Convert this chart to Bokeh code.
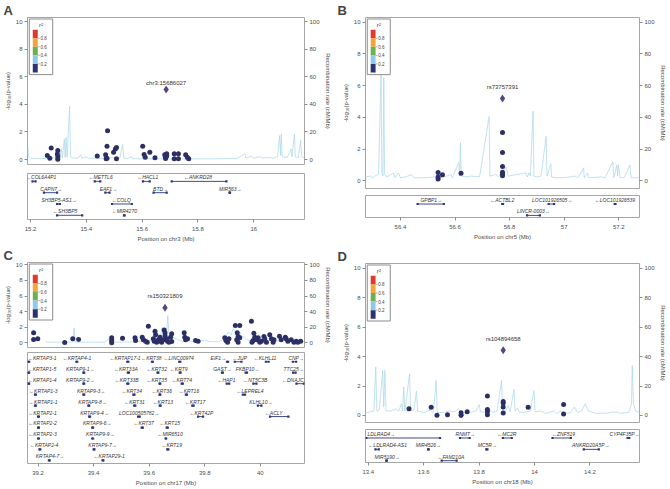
from bokeh.plotting import figure
from bokeh.models import Range1d, LinearAxis, FixedTicker
from bokeh.layouts import row, column
from bokeh.core.properties import value
from bokeh.embed import file_html
from bokeh.resources import INLINE

FONT = "Liberation Sans"
NAVY = "#2C2F66"
LEAD = "#55477F"
REC = "#A8D5E8"
GENE = "#2B357A"
TXT = "#4D4D4D"
FRAME = "#A6A6A6"
R2_PALETTE = ["#2B3472", "#8FC9EA", "#6DB04F", "#F3A43B", "#E1392E"]

LOGP_TICKS = [0, 2, 4, 6, 8, 10]
REC_TICKS = [0, 20, 40, 60, 80, 100]
R2_TICKS = [0.2, 0.4, 0.6, 0.8]
R2_TICK_LABELS = ["0.2", "0.4", "0.6", "0.8"]

# ---------------- Panel A (chr3) ----------------
A_chrom = "chr3"
A_xticks = [15.2, 15.4, 15.6, 15.8, 16]
A_xtick_labels = ["15.2", "15.4", "15.6", "15.8", "16"]
A_snp_pos = [15.260, 15.274, 15.269, 15.2975, 15.2975, 15.2975, 15.296, 15.439,
             15.476, 15.474, 15.469, 15.471, 15.474, 15.4975, 15.504, 15.508,
             15.508, 15.602, 15.607, 15.611, 15.6275, 15.646, 15.681, 15.683,
             15.684, 15.688, 15.688, 15.715, 15.715, 15.730, 15.730, 15.756,
             15.762, 15.767]
A_snp_logp = [0.29, 0.84, 0.10, 0.65, 0.22, 0.02, 0.40, 0.26, 2.09, 0.96, 0.34,
              0.05, 0.10, 0.53, 0.77, 0.88, 0.05, 0.96, 0.36, 0.17, 0.53, 0.12,
              0.35, 0.20, 0.08, 0.42, 0.25, 0.41, 0.05, 0.41, 0.05, 0.34, 0.17,
              0.05]
A_lead_pos = 15.686
A_lead_logp = 5.08
A_lead_name = "chr3:15686027"
A_rec_pos = [15.190, 15.193, 15.20, 15.23, 15.26, 15.28, 15.29, 15.305, 15.311,
             15.314, 15.321, 15.324, 15.3275, 15.331, 15.340, 15.343, 15.35,
             15.37, 15.380, 15.384, 15.40, 15.405, 15.42, 15.44, 15.47, 15.50,
             15.52, 15.530, 15.534, 15.55, 15.563, 15.566, 15.60, 15.65, 15.70,
             15.75, 15.80, 15.85, 15.90, 15.94, 15.968, 15.972, 15.99, 16.00,
             16.02, 16.03, 16.05, 16.07, 16.085, 16.093, 16.096, 16.099, 16.102,
             16.12, 16.134, 16.137, 16.146, 16.149, 16.16, 16.168, 16.172, 16.182]
A_rec_rate = [9, 2, 1, 0.8, 0.7, 1.5, 0.8, 1, 7.7, 1, 14.9, 1.5, 16, 2, 38.8, 2,
              1.2, 1, 3.6, 1, 2, 0.8, 1, 0.8, 1, 1.2, 1, 11, 1, 0.8, 2, 0.6, 0.5,
              0.5, 0.4, 0.4, 0.5, 0.5, 0.6, 0.8, 4.1, 1, 2.5, 1, 2, 1, 1.5, 1, 2,
              17.3, 3, 18.5, 2, 1.5, 7.7, 2, 18.5, 2, 1.5, 14, 2, 1]
A_gene_name = ["COL6A4P1", "METTL6", "HACL1", "ANKRD28", "CAPN7", "EAF1", "BTD",
               "MIR563", "SH3BP5-AS1", "COLQ", "SH3BP5", "MIR4270"]
A_gene_strand = ["-", "-", "-", "-", "+", "+", "+", "+", "+", "-", "-", "-"]
A_gene_start = [15.207, 15.430, 15.603, 15.706, 15.248, 15.468, 15.641, 15.913,
                15.295, 15.492, 15.295, 15.535]
A_gene_end = [15.218, 15.450, 15.627, 15.902, 15.295, 15.483, 15.688, 15.915,
              15.305, 15.563, 15.385, 15.537]
A_gene_row = [0, 0, 0, 0, 1, 1, 1, 1, 2, 2, 3, 3]
A_gene_label = [15.238, 15.451, 15.620, 15.800, 15.274, 15.479, 15.666, 15.916,
                15.302, 15.525, 15.324, 15.536]

# ---------------- Panel B (chr5) ----------------
B_chrom = "chr5"
B_xticks = [56.4, 56.6, 56.8, 57, 57.2]
B_xtick_labels = ["56.4", "56.6", "56.8", "57", "57.2"]
B_snp_pos = [56.538, 56.538, 56.538, 56.554, 56.622, 56.774, 56.774, 56.774,
             56.774, 56.774, 56.774]
B_snp_logp = [0.52, 0.25, 0.12, 0.39, 0.48, 3.04, 1.79, 0.91, 0.54, 0.41, 0.33]
B_lead_pos = 56.774
B_lead_logp = 5.19
B_lead_name = "rs73757391"
B_rec_pos = [56.272, 56.29, 56.30, 56.31, 56.32, 56.329, 56.332, 56.336, 56.339,
             56.342, 56.35, 56.375, 56.38, 56.393, 56.40, 56.42, 56.44, 56.45,
             56.48, 56.50, 56.52, 56.54, 56.56, 56.586, 56.59, 56.614, 56.617,
             56.620, 56.623, 56.64, 56.66, 56.69, 56.725, 56.728, 56.749, 56.76,
             56.787, 56.795, 56.81, 56.859, 56.865, 56.871, 56.876, 56.886,
             56.889, 56.90, 56.915, 56.934, 56.937, 56.951, 56.954, 56.97, 57.00,
             57.038, 57.05, 57.071, 57.074, 57.086, 57.09, 57.137, 57.15, 57.178,
             57.182, 57.193, 57.196, 57.199, 57.205, 57.22, 57.241, 57.245,
             57.276]
B_rec_rate = [2.5, 3, 2, 3.5, 4, 70, 5, 3, 65, 4, 2.5, 5, 2, 5, 2, 2.5, 4, 2, 2,
              2, 2.5, 2, 2.5, 4, 2, 11.7, 3, 24, 3, 2.5, 3, 2.5, 40.6, 3, 4, 2.5,
              8.7, 3, 3.5, 5, 2.5, 5, 3, 44, 3, 2.5, 3, 28, 3, 10.7, 2.5, 2, 2, 3,
              2, 8, 2, 5, 2, 2.5, 2, 12, 2, 10, 3, 10, 2, 2, 10, 2, 2]
B_gene_name = ["GPBP1", "ACTBL2", "LOC101926505", "LOC101926539", "LINCR-0003"]
B_gene_strand = ["+", "-", "+", "-", "+"]
B_gene_start = [56.463, 56.773, 56.943, 57.185, 56.864]
B_gene_end = [56.559, 56.776, 56.963, 57.188, 56.911]
B_gene_row = [0, 0, 0, 0, 1]
B_gene_label = [56.513, 56.773, 56.956, 57.186, 56.887]

# ---------------- Panel C (chr17) ----------------
C_chrom = "chr17"
C_xticks = [39.2, 39.4, 39.6, 39.8, 40]
C_xtick_labels = ["39.2", "39.4", "39.6", "39.8", "40"]
C_snp_pos = [39.184, 39.184, 39.199, 39.296, 39.325, 39.346, 39.465, 39.465,
             39.465, 39.504, 39.549, 39.551, 39.575, 39.579, 39.587, 39.593,
             39.597, 39.615, 39.618, 39.621, 39.623, 39.627, 39.633, 39.639,
             39.642, 39.645, 39.651, 39.654, 39.657, 39.657, 39.663, 39.666,
             39.671, 39.677, 39.681, 39.681, 39.726, 39.728, 39.731, 39.738,
             39.767, 39.776, 39.872, 39.876, 39.882, 39.887, 39.910, 39.926,
             39.917, 39.920, 39.915, 39.920, 39.926, 39.968, 39.977, 39.980,
             39.974, 39.970, 39.986, 39.992, 39.998, 40.004, 40.013, 40.016,
             40.022, 40.034, 40.040, 40.046, 40.049, 40.069, 40.075, 40.090,
             40.093, 40.099, 40.111, 40.121, 40.129, 40.135, 40.145]
C_snp_logp = [1.28, 0.42, 0.51, 0.04, 0.51, 0.42, 0.64, 0.30, 0.0, 0.59, 0.64,
              0.30, 0.72, 0.38, 0.21, 0.08, 2.13, 0.51, 0.21, 1.49, 1.02, 0.08,
              0.38, 0.72, 0.21, 0.08, 0.38, 1.66, 1.28, 0.94, 0.51, 0.21, 0.08,
              0.72, 1.15, 0.17, 1.28, 0.72, 0.38, 0.51, 0.30, 0.21, 0.64, 0.30,
              0.08, 0.51, 2.22, 2.22, 1.28, 0.81, 0.38, 0.08, 0.64, 2.77, 1.23,
              0.72, 0.30, 0.08, 0.38, 0.64, 0.08, 0.21, 0.81, 0.51, 0.08, 1.02,
              0.51, 0.08, 0.38, 0.85, 0.38, 0.72, 0.51, 0.21, 0.38, 0.08, 0.21,
              0.08, 0.21]
C_lead_pos = 39.657
C_lead_logp = 4.49
C_lead_name = "rs150321809"
C_rec_pos = [39.226, 39.26, 39.30, 39.325, 39.330, 39.333, 39.36, 39.40, 39.44,
             39.459, 39.463, 39.50, 39.54, 39.57, 39.60, 39.612, 39.62, 39.633,
             39.64, 39.647, 39.652, 39.657, 39.662, 39.667, 39.671, 39.681,
             39.69, 39.699, 39.715, 39.74, 39.76, 39.78, 39.80, 39.82, 39.85,
             39.872, 39.884, 39.895, 39.902, 39.915, 39.926, 39.935, 39.944,
             39.955, 39.97, 40.00, 40.03, 40.06, 40.09, 40.12, 40.159]
C_rec_rate = [1, 0.8, 0.8, 1, 19, 1, 0.8, 0.8, 0.8, 6.4, 1, 1, 1, 2, 3, 5, 4,
              11.5, 8, 20, 9, 15, 10, 35, 11, 11, 6, 5, 2, 2.5, 1.5, 3, 3, 1.5,
              1.5, 5, 13.6, 10, 18, 11, 13.6, 8, 7, 3, 2, 2.5, 3, 2, 3, 2, 2]
C_gene_name = ["KRTAP3-1", "KRTAP4-1", "KRTAP17-1", "KRT38", "LINC00974", "EIF1",
               "JUP", "KLHL11", "CNP",
               "KRTAP1-5", "KRTAP9-1", "KRT33A", "KRT32", "KRT9", "GAST",
               "FKBP10", "TTC25",
               "KRTAP1-4", "KRTAP9-2", "KRT33B", "KRT35", "KRT74", "HAP1",
               "NT5C3B", "DNAJC7",
               "KRTAP1-3", "KRTAP9-3", "KRT34", "KRT36", "KRT16", "LEPREL4",
               "KRTAP1-1", "KRTAP9-8", "KRT31", "KRT13", "KRT17", "KLHL10",
               "KRTAP2-1", "KRTAP9-4", "LOC100505782", "KRT42P", "ACLY",
               "KRTAP2-2", "KRTAP9-6", "KRT37", "KRT15",
               "KRTAP2-3", "KRTAP9-9", "MIR6510",
               "KRTAP2-4", "KRTAP9-7", "KRT19",
               "KRTAP4-7", "KRTAP29-1"]
C_gene_strand = ["-", "-", "-", "-", "-", "+", "-", "-", "+",
                 "-", "+", "-", "-", "-", "+", "+", "+",
                 "-", "+", "-", "-", "-", "-", "-", "-",
                 "-", "+", "-", "-", "-", "-",
                 "-", "+", "-", "-", "-", "+",
                 "-", "+", "+", "-", "-",
                 "-", "+", "-", "-",
                 "-", "+", "-",
                 "-", "+", "-",
                 "+", "-"]
C_gene_row = [0] * 9 + [1] * 8 + [2] * 8 + [3] * 6 + [4] * 6 + [5] * 5 + \
             [6] * 4 + [7] * 3 + [8] * 3 + [9] * 2
C_gene_label = [39.215, 39.340, 39.513, 39.608, 39.706, 39.849, 39.926, 40.017,
                40.129,
                39.214, 39.352, 39.516, 39.627, 39.706, 39.864, 39.954, 40.120,
                39.215, 39.352, 39.519, 39.627, 39.717, 39.878, 39.982, 40.122,
                39.219, 39.391, 39.537, 39.645, 39.743, 39.963,
                39.219, 39.396, 39.547, 39.649, 39.765, 40.002,
                39.216, 39.403, 39.564, 39.788, 40.048,
                39.216, 39.413, 39.580, 39.674,
                39.216, 39.424, 39.675,
                39.222, 39.432, 39.681,
                39.243, 39.456]
C_gene_start = [39.165, 39.338, 39.521, 39.610, 39.708, 39.880, 39.908, 40.020,
                40.117,
                39.165, 39.363, 39.523, 39.630, 39.710, 39.862, 39.947, 40.118,
                39.165, 39.363, 39.521, 39.637, 39.717, 39.879, 39.975, 40.130,
                39.189, 39.363, 39.543, 39.637, 39.732, 39.937,
                39.189, 39.381, 39.546, 39.638, 39.755, 39.991,
                39.200, 39.384, 39.560, 39.776, 40.035,
                39.200, 39.395, 39.573, 39.663,
                39.200, 39.395, 39.659,
                39.205, 39.400, 39.665,
                39.239, 39.432]
C_gene_end = [39.168, 39.341, 39.525, 39.613, 39.712, 39.884, 39.932, 40.030,
              40.129,
              39.168, 39.366, 39.527, 39.633, 39.713, 39.865, 39.952, 40.127,
              39.168, 39.366, 39.525, 39.640, 39.721, 39.888, 39.986, 40.157,
              39.192, 39.366, 39.547, 39.640, 39.736, 39.945,
              39.192, 39.384, 39.550, 39.641, 39.760, 40.004,
              39.203, 39.387, 39.566, 39.794, 40.101,
              39.203, 39.398, 39.577, 39.667,
              39.203, 39.398, 39.661,
              39.208, 39.403, 39.669,
              39.242, 39.435]

# ---------------- Panel D (chr18) ----------------
D_chrom = "chr18"
D_xticks = [13.4, 13.6, 13.8, 14, 14.2]
D_xtick_labels = ["13.4", "13.6", "13.8", "14", "14.2"]
D_snp_pos = [13.547, 13.627, 13.648, 13.686, 13.735, 13.735, 13.735, 13.757,
             13.830, 13.830, 13.830, 13.830, 13.887, 13.887, 13.887, 13.887,
             13.977, 14.105, 14.105]
D_snp_logp = [0.45, 0.55, 0.02, 0.05, 0.18, 0.05, 0.0, 0.25, 1.32, 0.41, 0.27,
              0.05, 0.95, 0.84, 0.57, 0.16, 0.55, 0.75, 0.09]
D_lead_pos = 13.887
D_lead_logp = 4.43
D_lead_name = "rs104894658"
D_rec_pos = [13.39, 13.41, 13.42, 13.427, 13.431, 13.44, 13.452, 13.456, 13.460,
             13.464, 13.48, 13.50, 13.51, 13.52, 13.524, 13.528, 13.532, 13.549,
             13.553, 13.565, 13.574, 13.578, 13.60, 13.624, 13.635, 13.645,
             13.649, 13.67, 13.692, 13.71, 13.726, 13.74, 13.77, 13.79, 13.800,
             13.805, 13.82, 13.835, 13.85, 13.865, 13.881, 13.885, 13.895,
             13.905, 13.912, 13.926, 13.930, 13.938, 13.945, 13.96, 13.985,
             13.998, 14.002, 14.024, 14.04, 14.072, 14.08, 14.096, 14.11, 14.13,
             14.144, 14.155, 14.17, 14.183, 14.195, 14.22, 14.26, 14.287, 14.31,
             14.34, 14.35, 14.353, 14.357, 14.365, 14.379]
D_rec_rate = [2, 2.5, 3, 33, 3, 4, 30.7, 6, 30.7, 3, 3, 4.5, 3, 8, 3, 19.3, 3,
              28.4, 3, 4, 16.4, 3, 2, 3.4, 2, 23.9, 2, 2, 3, 2.5, 4.5, 2, 2, 3,
              7.5, 2.5, 2, 4.5, 2, 3, 23.9, 3, 3, 6.8, 2.5, 17.7, 3, 5, 2.5, 2,
              3, 17, 2.5, 3, 1.5, 3, 1.5, 3, 1.5, 2, 5.7, 2, 3, 8, 3, 1.5, 1.5,
              2.5, 1.5, 2, 8, 34, 8, 3, 2]
D_gene_name = ["LDLRAD4", "RNMT", "MC2R", "ZNF519", "CYP4F35P", "LDLRAD4-AS1",
               "MIR4526", "MC5R", "ANKRD20A5P", "MIR5190", "FAM210A"]
D_gene_strand = ["+", "+", "-", "-", "+", "-", "+", "+", "+", "+", "-"]
D_gene_start = [13.393, 13.731, 13.886, 14.065, 14.336, 13.426, 13.616, 13.826,
                14.178, 13.465, 13.665]
D_gene_end = [13.659, 13.766, 13.918, 14.131, 14.342, 13.438, 13.618, 13.830,
              14.232, 13.467, 13.719]
D_gene_row = [0, 0, 0, 0, 0, 1, 1, 1, 1, 2, 2]
D_gene_label = [13.447, 13.750, 13.900, 14.105, 14.325, 13.470, 13.617, 13.830,
                14.203, 13.468, 13.698]


def style_axis(ax):
    ax.axis_line_color = None
    ax.major_tick_line_color = "#8C8C8C"
    ax.major_tick_out = 3
    ax.major_tick_in = 0
    ax.minor_tick_line_color = None
    ax.major_label_text_font = FONT
    ax.major_label_text_font_size = "6px"
    ax.major_label_text_color = TXT
    ax.major_label_standoff = 2
    ax.axis_label_text_font = FONT
    ax.axis_label_text_font_size = "6px"
    ax.axis_label_text_font_style = "normal"
    ax.axis_label_text_color = TXT
    ax.axis_label_standoff = 2


def draw_r2_legend(p, xlim, ylim, frame_w, frame_h):
    # legend box placed in pixel offsets from the frame's top-left corner
    xs = (xlim[1] - xlim[0]) / frame_w
    ys = (ylim[1] - ylim[0]) / frame_h

    def X(px):
        return xlim[0] + px * xs

    def Y(py):
        return ylim[1] - py * ys

    p.quad(left=[X(1.8)], right=[X(25.3)], top=[Y(1.5)], bottom=[Y(57.5)],
           fill_color="white", line_color="#8C8C8C", line_width=1)
    seg = 8.6
    bar_top = 12.3
    cols = list(reversed(R2_PALETTE))
    p.quad(left=[X(5.3)] * 5, right=[X(10.3)] * 5,
           top=[Y(bar_top + i * seg) for i in range(5)],
           bottom=[Y(bar_top + (i + 1) * seg) for i in range(5)],
           fill_color=cols, line_color=None)
    ty = [Y(bar_top + (4 - i) * seg) for i in range(len(R2_TICKS))]
    p.segment(x0=[X(10.3)] * 4, y0=ty, x1=[X(12.3)] * 4, y1=ty,
              line_color="#777777", line_width=0.6)
    p.text(x=[X(13)] * 4, y=ty, text=R2_TICK_LABELS, text_align="left",
           text_baseline="middle", text_font=value(FONT),
           text_font_size="4.5px", text_color="#444444")
    p.text(x=[X(13.5)], y=[Y(7.5)], text=["r\u00b2"], text_align="center",
           text_baseline="middle", text_font=value(FONT),
           text_font_size="6px", text_font_style="italic",
           text_color="#333333")


def make_panel(letter, chrom, xlim, ylim, snp_pos, snp_logp, lead, rec_pos,
               rec_rate, genes, xticks, xtick_labels, geo):
    W, L, R = geo["W"], geo["L"], geo["R"]
    xr = Range1d(*xlim)
    p = figure(width=W, height=geo["h_top"], x_range=xr,
               y_range=Range1d(*ylim), x_axis_location=None,
               output_backend="svg", toolbar_location=None,
               min_border_left=L, min_border_right=R,
               min_border_top=geo["t_top"], min_border_bottom=2)
    p.grid.visible = False
    p.outline_line_color = FRAME
    p.outline_line_width = 1
    p.background_fill_color = "white"
    p.border_fill_color = "white"
    p.yaxis.ticker = FixedTicker(ticks=LOGP_TICKS)
    p.yaxis.axis_label = "-log\u2081\u2080(p-value)"
    style_axis(p.yaxis[0])
    p.extra_y_ranges = {"rec": Range1d(ylim[0] * 10, ylim[1] * 10)}
    rax = LinearAxis(y_range_name="rec", ticker=FixedTicker(ticks=REC_TICKS),
                     axis_label="Recombination rate (cM/Mb)")
    style_axis(rax)
    p.add_layout(rax, "right")

    p.title.text = letter
    p.title.text_font = FONT
    p.title.text_font_size = "13px"
    p.title.text_font_style = "bold"
    p.title.align = "left"
    p.title.standoff = 0
    p.title.offset = -(L - geo["lx"])

    p.line(rec_pos, rec_rate, y_range_name="rec", line_color=REC,
           line_width=0.7)
    p.scatter(snp_pos, snp_logp, size=5, fill_color=NAVY, line_color=None)
    lpos, llogp, lname = lead
    p.scatter([lpos], [llogp], marker="diamond", size=8, fill_color=LEAD,
              line_color=None)
    p.text([lpos], [llogp], text=[lname], y_offset=-geo["lab_off"],
           text_align="center", text_baseline="middle",
           text_font=value(FONT), text_font_size="6px", text_color="#333333")

    frame_h = geo["h_top"] - geo["t_top"] - 2
    frame_w = W - L - R
    draw_r2_legend(p, xlim, ylim, frame_w, frame_h)

    # gene track
    gname, gstrand, gstart, gend, grow, glabel = genes
    pitch, first = geo["pitch"], geo["first"]
    top = first / pitch
    bottom = top - geo["g_frame"] / pitch
    g = figure(width=W, height=geo["h_gene"], x_range=xr,
               y_range=Range1d(bottom, top), y_axis_location=None,
               output_backend="svg", toolbar_location=None,
               min_border_left=L, min_border_right=R,
               min_border_top=geo["g_top"],
               min_border_bottom=geo["h_gene"] - geo["g_top"] - geo["g_frame"])
    g.grid.visible = False
    g.outline_line_color = FRAME
    g.outline_line_width = 1
    g.xaxis.ticker = FixedTicker(ticks=xticks)
    g.xaxis.major_label_overrides = {t: s for t, s in zip(xticks, xtick_labels)}
    g.xaxis.axis_label = "Position on %s (Mb)" % chrom
    style_axis(g.xaxis[0])
    g.xaxis.major_label_standoff = 4
    g.xaxis.axis_label_standoff = 2
    labels = [("\u2190" + n) if s == "-" else (n + "\u2192")
              for n, s in zip(gname, gstrand)]
    ybody = [-r - 0.37 for r in grow]
    ytext = [-r for r in grow]
    g.segment(x0=gstart, y0=ybody, x1=gend, y1=ybody, line_color=GENE,
              line_width=0.9)
    g.scatter(x=list(gstart) + list(gend), y=ybody + ybody, marker="square",
              size=2.2, fill_color=GENE, line_color=None)
    g.text(x=glabel, y=ytext, text=labels, text_align="center",
           text_baseline="middle", text_font=value(FONT),
           text_font_size="5px", text_font_style="italic",
           text_color="#333333")
    return column(p, g)


geoA = dict(W=333, L=27, R=28, h_top=166, t_top=16, lab_off=6, lx=3,
            h_gene=78, g_top=7, g_frame=46, pitch=11.3, first=3.7)
geoB = dict(W=335, L=32, R=23, h_top=190, t_top=16, lab_off=11, lx=4,
            h_gene=54, g_top=5, g_frame=22, pitch=11.4, first=4.3)
geoC = dict(W=333, L=27, R=28, h_top=105, t_top=18, lab_off=11.5, lx=3,
            h_gene=139, g_top=3, g_frame=113, pitch=11.16, first=5.3)
geoD = dict(W=335, L=32, R=23, h_top=180, t_top=19, lab_off=11.5, lx=4,
            h_gene=63, g_top=5, g_frame=33, pitch=11.35, first=4.3)

pA = make_panel("A", A_chrom, (15.189, 16.182), (-0.36, 10.29), A_snp_pos,
                A_snp_logp, (A_lead_pos, A_lead_logp, A_lead_name), A_rec_pos,
                A_rec_rate, (A_gene_name, A_gene_strand, A_gene_start,
                             A_gene_end, A_gene_row, A_gene_label),
                A_xticks, A_xtick_labels, geoA)
pB = make_panel("B", B_chrom, (56.272, 57.276), (-0.48, 10.29), B_snp_pos,
                B_snp_logp, (B_lead_pos, B_lead_logp, B_lead_name), B_rec_pos,
                B_rec_rate, (B_gene_name, B_gene_strand, B_gene_start,
                             B_gene_end, B_gene_row, B_gene_label),
                B_xticks, B_xtick_labels, geoB)
pC = make_panel("C", C_chrom, (39.162, 40.159), (-0.6, 10.3), C_snp_pos,
                C_snp_logp, (C_lead_pos, C_lead_logp, C_lead_name), C_rec_pos,
                C_rec_rate, (C_gene_name, C_gene_strand, C_gene_start,
                             C_gene_end, C_gene_row, C_gene_label),
                C_xticks, C_xtick_labels, geoC)
pD = make_panel("D", D_chrom, (13.39, 14.379), (-0.48, 10.34), D_snp_pos,
                D_snp_logp, (D_lead_pos, D_lead_logp, D_lead_name), D_rec_pos,
                D_rec_rate, (D_gene_name, D_gene_strand, D_gene_start,
                             D_gene_end, D_gene_row, D_gene_label),
                D_xticks, D_xtick_labels, geoD)

layout = column(row(pA, pB), row(pC, pD))
open("out.html", "w").write(file_html(layout, INLINE))
